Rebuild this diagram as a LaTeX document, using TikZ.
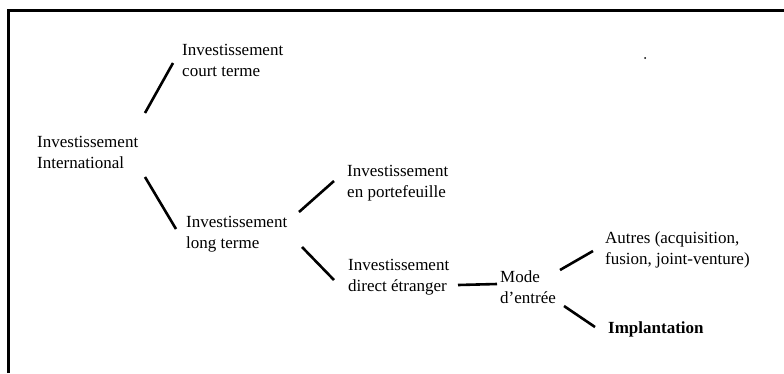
\documentclass[tikz,border=0pt]{standalone}
\usepackage{fontspec}
\setmainfont{Liberation Serif}
\begin{document}
\begin{tikzpicture}[x=1pt,y=-1pt,
  lbl/.style={anchor=west,inner sep=0pt,align=left,font=\fontsize{17}{21}\selectfont},
  conn/.style={line width=2.6pt},
  frame/.style={line width=3pt}]
\useasboundingbox (0,0) rectangle (784,373);
\draw[frame] (8,373) -- (8,10) -- (784,10);
\fill (645,58) circle (1pt);

\node[lbl] (court) at (182,60) {Investissement\\court terme};
\node[lbl] (intl) at (37,152) {Investissement\\International};
\node[lbl] (long) at (186,234) {Investissement\\long terme};
\node[lbl] (portef) at (347,183) {Investissement\\en portefeuille};
\node[lbl] (direct) at (348,277) {Investissement\\direct étranger};
\node[lbl] (mode) at (500,287) {Mode\\d'entrée};
\node[lbl] (autres) at (605,250) {Autres (acquisition,\\fusion, joint-venture)};
\node[lbl,font=\fontsize{17}{21}\selectfont\bfseries] (impl) at (608,329) {Implantation};

\coordinate (a1) at (145,113); \coordinate (a2) at (173,63);
\coordinate (b1) at (145,177); \coordinate (b2) at (176,229);
\coordinate (c1) at (299,212); \coordinate (c2) at (334,181);
\coordinate (d1) at (302,247); \coordinate (d2) at (334,280);
\coordinate (e1) at (458,285); \coordinate (e2) at (497,284);
\coordinate (f1) at (560,270); \coordinate (f2) at (593,251);
\coordinate (g1) at (564,306); \coordinate (g2) at (595,327);

\draw[conn] (a1) -- (a2);
\draw[conn] (b1) -- (b2);
\draw[conn] (c1) -- (c2);
\draw[conn] (d1) -- (d2);
\draw[conn] (e1) -- (e2);
\draw[conn] (f1) -- (f2);
\draw[conn] (g1) -- (g2);
\end{tikzpicture}
\end{document}
